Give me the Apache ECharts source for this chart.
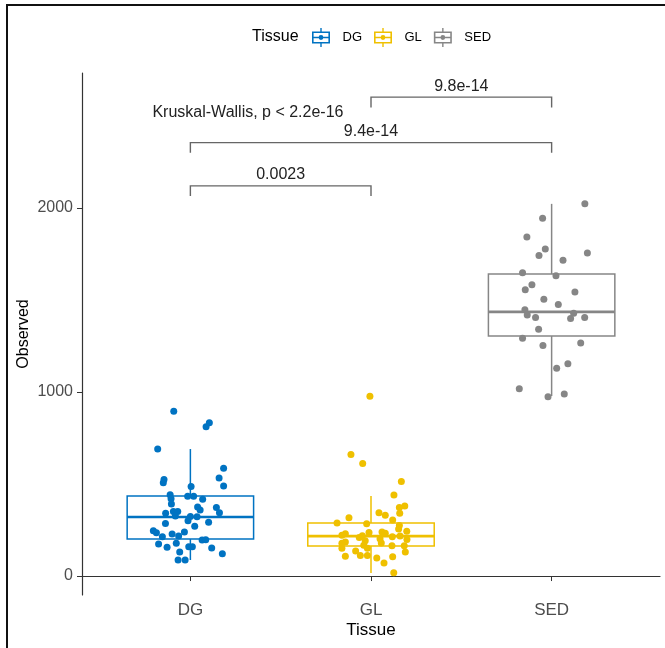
<!DOCTYPE html>
<html>
<head>
<meta charset="utf-8">
<script src="https://cdn.jsdelivr.net/npm/echarts@6/dist/echarts.min.js"></script>
<style>
  html, body { margin: 0; padding: 0; background: #fff; }
  #chart { width: 665px; height: 648px; }
</style>
</head>
<body>
<div id="chart"></div>
<script>
// categories and colours (jco palette)
const tissues = ["DG", "GL", "SED"];
const colors = ["#0073C2", "#EFC000", "#868686"];

// jittered points: observed value + horizontal jitter (category units)
const dgObserved = [895, 833, 811, 690, 585, 525, 507, 533, 489, 487, 442, 433, 433, 420, 417, 391,
  375, 373, 359, 350, 350, 341, 344, 326, 324, 322, 301, 286, 292, 270, 246, 235, 239, 228, 217, 214,
  196, 197, 174, 178, 156, 159, 159, 152, 130, 121, 87, 87];
const dgJitter = [-0.092, 0.105, 0.087, -0.181, 0.184, -0.146, -0.150, 0.159, 0.184, 0.004, -0.112,
  -0.015, 0.018, -0.107, 0.068, -0.105, 0.040, 0.144, 0.054, -0.094, -0.070, -0.137, 0.161, -0.083,
  0.000, 0.037, -0.013, -0.138, 0.101, 0.024, -0.205, -0.188, -0.033, -0.101, -0.065, -0.155, 0.065,
  0.085, -0.176, -0.078, -0.129, -0.009, 0.011, 0.118, -0.059, 0.177, -0.068, -0.029];

const glObserved = [977, 661, 612, 513, 440, 380, 373, 344, 330, 317, 341, 304, 288, 284, 275, 255,
  243, 239, 237, 232, 230, 221, 219, 210, 214, 217, 203, 199, 185, 178, 192, 179, 167, 165, 165, 151,
  151, 130, 136, 112, 107, 112, 98, 105, 71, 18];
const glJitter = [-0.006, -0.111, -0.046, 0.168, 0.127, 0.187, 0.157, 0.044, 0.079, -0.122, 0.159,
  0.120, -0.188, -0.024, 0.157, 0.153, 0.198, 0.061, -0.011, 0.079, -0.142, -0.161, -0.048, -0.065,
  0.118, 0.161, 0.050, 0.199, -0.142, -0.161, -0.032, 0.057, -0.040, 0.116, 0.184, -0.161, -0.020,
  0.190, -0.085, -0.059, -0.142, -0.020, 0.032, 0.120, 0.072, 0.126];

const sedObserved = [2023, 1944, 1842, 1777, 1741, 1755, 1716, 1648, 1632, 1582, 1556, 1543, 1504,
  1475, 1447, 1418, 1404, 1428, 1399, 1404, 1341, 1292, 1252, 1266, 1154, 1129, 1018, 974, 989];
const sedJitter = [0.184, -0.050, -0.137, -0.035, -0.070, 0.198, 0.063, -0.161, 0.024, -0.109,
  -0.146, 0.129, -0.043, 0.037, -0.148, -0.135, -0.089, 0.122, 0.105, 0.183, -0.072, -0.161, -0.048,
  0.161, 0.090, 0.028, -0.179, -0.020, 0.070];

// box statistics per tissue
const boxMin = [87, 16, 978];
const boxQ1 = [201, 163, 1304];
const boxMedian = [321, 217, 1435];
const boxQ3 = [435, 288, 1641];
const boxMax = [690, 435, 2022];

// pairwise comparisons
const bracketFrom = [1, 1, 2];
const bracketTo = [2, 3, 3];
const bracketY = [2120, 2355, 2602];
const bracketTip = [2065, 2300, 2545];
const bracketLabel = ["0.0023", "9.4e-14", "9.8e-14"];

const kruskalText = "Kruskal-Wallis, p < 2.2e-16";
const kruskalPos = [0.79, 2516];

const yTicks = [0, 1000, 2000];
const xTicks = [1, 2, 3];

const FONT = '"Liberation Sans", Arial, sans-serif';
const BOX_WIDTH = 0.7;

const pointSets = [[dgObserved, dgJitter], [glObserved, glJitter], [sedObserved, sedJitter]];

// legend glyph: box + median + whiskers + dot
const legendIcon = "path://M0,3.5H18V15.5H0Z M1.6,5.1V13.9H16.4V5.1Z M1.6,8.8H16.4V10.2H1.6Z " +
  "M8.3,0H9.7V3.5H8.3Z M8.3,15.5H9.7V19H8.3Z M6.6,9.5a2.4,2.4 0 1,1 4.8,0a2.4,2.4 0 1,1 -4.8,0Z";

const boxData = tissues.map((t, i) => ({
  value: [i + 1, boxMin[i], boxQ1[i], boxMedian[i], boxQ3[i], boxMax[i]],
  itemStyle: { color: colors[i] }
}));

const scatterSeries = tissues.map((t, i) => ({
  name: t,
  type: "scatter",
  symbolSize: 7,
  z: 3,
  itemStyle: { color: colors[i], opacity: 1 },
  data: pointSets[i][0].map((v, k) => [i + 1 + pointSets[i][1][k], v])
}));

const chart = echarts.init(document.getElementById("chart"), null, { renderer: "canvas" });

const option = {
  animation: false,
  backgroundColor: "#fff",
  textStyle: { fontFamily: FONT },
  title: {
    text: "Tissue",
    left: 252,
    top: 29,
    padding: 0,
    textStyle: { fontSize: 16, fontWeight: "normal", color: "#000", fontFamily: FONT }
  },
  legend: {
    data: tissues,
    left: 312,
    top: 28,
    padding: 0,
    itemWidth: 19,
    itemHeight: 19,
    itemGap: 12,
    icon: legendIcon,
    textStyle: { fontSize: 13, color: "#000", fontFamily: FONT, padding: [0, 0, 0, 7] }
  },
  grid: {
    left: 82,
    right: 5,
    top: 73,
    bottom: 53,
    containLabel: false,
    outerBoundsMode: "none"
  },
  xAxis: {
    type: "value",
    min: 0.4,
    max: 3.6,
    name: "Tissue",
    nameLocation: "middle",
    nameGap: 27,
    nameMoveOverlap: false,
    nameTextStyle: { fontSize: 17, color: "#000", fontFamily: FONT },
    splitLine: { show: false },
    axisLine: { show: true, lineStyle: { color: "#333", width: 1.2 } },
    axisTick: { show: true, length: 5, customValues: xTicks, lineStyle: { color: "#333" } },
    axisLabel: {
      customValues: xTicks,
      formatter: v => tissues[Math.round(v) - 1],
      fontSize: 17,
      color: "#4D4D4D",
      margin: 7
    }
  },
  yAxis: {
    type: "value",
    min: -103,
    max: 2733,
    name: "Observed",
    nameLocation: "middle",
    nameGap: 50,
    nameMoveOverlap: false,
    nameTextStyle: { fontSize: 16, color: "#000", fontFamily: FONT },
    splitLine: { show: false },
    axisLine: { show: true, lineStyle: { color: "#333", width: 1.2 } },
    axisTick: { show: true, length: 5, customValues: yTicks, lineStyle: { color: "#333" } },
    axisLabel: {
      customValues: yTicks,
      formatter: v => String(v),
      fontSize: 16,
      color: "#4D4D4D",
      margin: 9
    }
  },
  graphic: [
    { type: "line", shape: { x1: 6, y1: 5, x2: 665, y2: 5 }, style: { stroke: "#111", lineWidth: 2 } },
    { type: "line", shape: { x1: 7, y1: 5, x2: 7, y2: 648 }, style: { stroke: "#111", lineWidth: 2 } }
  ],
  series: [
    {
      name: "box",
      type: "custom",
      z: 1,
      encode: { x: 0, y: [1, 2, 3, 4, 5] },
      data: boxData,
      renderItem: (params, api) => {
        const x = api.value(0);
        const col = colors[params.dataIndex];
        const pMin = api.coord([x, api.value(1)]);
        const pQ1 = api.coord([x, api.value(2)]);
        const pMed = api.coord([x, api.value(3)]);
        const pQ3 = api.coord([x, api.value(4)]);
        const pMax = api.coord([x, api.value(5)]);
        const left = api.coord([x - BOX_WIDTH / 2, 0])[0];
        const right = api.coord([x + BOX_WIDTH / 2, 0])[0];
        const st = { stroke: col, lineWidth: 1.5, fill: null };
        return {
          type: "group",
          children: [
            { type: "line", shape: { x1: pMax[0], y1: pMax[1], x2: pQ3[0], y2: pQ3[1] }, style: st },
            { type: "line", shape: { x1: pQ1[0], y1: pQ1[1], x2: pMin[0], y2: pMin[1] }, style: st },
            { type: "rect", shape: { x: left, y: pQ3[1], width: right - left, height: pQ1[1] - pQ3[1] },
              style: { stroke: col, lineWidth: 1.5, fill: "rgba(255,255,255,0)" } },
            { type: "line", shape: { x1: left, y1: pMed[1], x2: right, y2: pMed[1] },
              style: { stroke: col, lineWidth: 2.6 } }
          ]
        };
      }
    },
    ...scatterSeries,
    {
      name: "brackets",
      type: "custom",
      z: 4,
      clip: false,
      encode: { x: [0, 1], y: [2, 3] },
      data: bracketFrom.map((f, i) => [f, bracketTo[i], bracketY[i], bracketTip[i]]),
      renderItem: (params, api) => {
        const a = api.coord([api.value(0), api.value(3)]);
        const b = api.coord([api.value(0), api.value(2)]);
        const c = api.coord([api.value(1), api.value(2)]);
        const d = api.coord([api.value(1), api.value(3)]);
        return {
          type: "group",
          children: [
            { type: "polyline", shape: { points: [a, b, c, d] },
              style: { stroke: "#666", lineWidth: 1.4, fill: null } },
            { type: "text", x: (b[0] + c[0]) / 2, y: b[1] - 3,
              style: { text: bracketLabel[params.dataIndex], align: "center", verticalAlign: "bottom",
                fontSize: 16, fontFamily: FONT, fill: "#222" } }
          ]
        };
      }
    },
    {
      name: "kruskal",
      type: "custom",
      z: 4,
      clip: false,
      encode: { x: 0, y: 1 },
      data: [kruskalPos],
      renderItem: (params, api) => {
        const p = api.coord([api.value(0), api.value(1)]);
        return {
          type: "text", x: p[0], y: p[1],
          style: { text: kruskalText, align: "left", verticalAlign: "middle",
            fontSize: 16, fontFamily: FONT, fill: "#222" }
        };
      }
    }
  ]
};

chart.setOption(option);
</script>
</body>
</html>
